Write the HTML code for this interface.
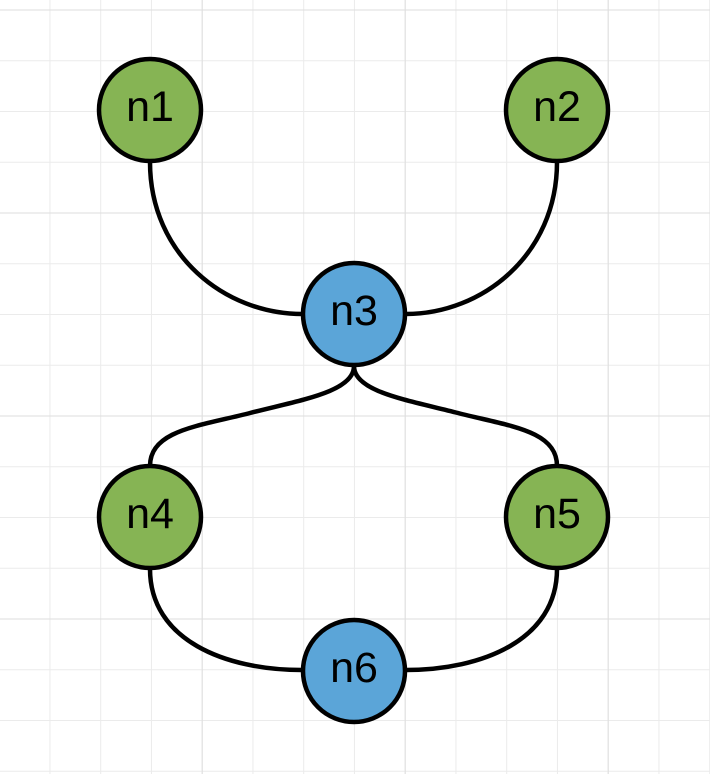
<!DOCTYPE html>
<html><head><style>
html,body{margin:0;padding:0;background:#fff;}
svg{display:block;}
text{font-family:"Liberation Sans",sans-serif;font-size:43px;fill:#000;}
</style></head><body>
<svg width="710" height="774" viewBox="0 0 710 774" xmlns="http://www.w3.org/2000/svg">
<defs>
<pattern id="g" x="-1.3" y="9.5" width="50.75" height="50.75" patternUnits="userSpaceOnUse">
<path d="M0.5 0V50.75M0 0.5H50.75" stroke="#ebebeb" stroke-width="1" fill="none"/>
</pattern>
<pattern id="G" x="-1.3" y="9.5" width="203" height="203" patternUnits="userSpaceOnUse">
<path d="M0.5 0V203M0 0.5H203" stroke="#dedede" stroke-width="1" fill="none"/>
</pattern>
</defs>
<rect width="710" height="774" fill="url(#g)"/>
<rect width="710" height="774" fill="url(#G)"/>
<g fill="none" stroke="#000" stroke-width="4.5">
<path d="M150 162 C150 255 225 314 302 314"/>
<path d="M557 162 C557 255 482 314 406 314"/>
<path d="M354 366 C354 392 300 400 250 413 C200 426 150 430 150 466"/>
<path d="M354 366 C354 392 408 400 458 413 C508 426 557 430 557 466"/>
<path d="M150 569 C150 640 225 670 302 670"/>
<path d="M557 569 C557 640 482 670 406 670"/>
</g>
<g stroke="#000" stroke-width="4.5">
<circle cx="150" cy="110" r="51" fill="#86b454"/>
<circle cx="557" cy="110" r="51" fill="#86b454"/>
<circle cx="354" cy="314" r="51" fill="#5ba5d8"/>
<circle cx="150" cy="517" r="51" fill="#86b454"/>
<circle cx="557" cy="517" r="51" fill="#86b454"/>
<circle cx="354" cy="671" r="51" fill="#5ba5d8"/>
</g>
<g text-anchor="middle">
<text x="150" y="121">n1</text>
<text x="557" y="121">n2</text>
<text x="354" y="325">n3</text>
<text x="150" y="528">n4</text>
<text x="557" y="528">n5</text>
<text x="354" y="682">n6</text>
</g>
</svg>
</body></html>
